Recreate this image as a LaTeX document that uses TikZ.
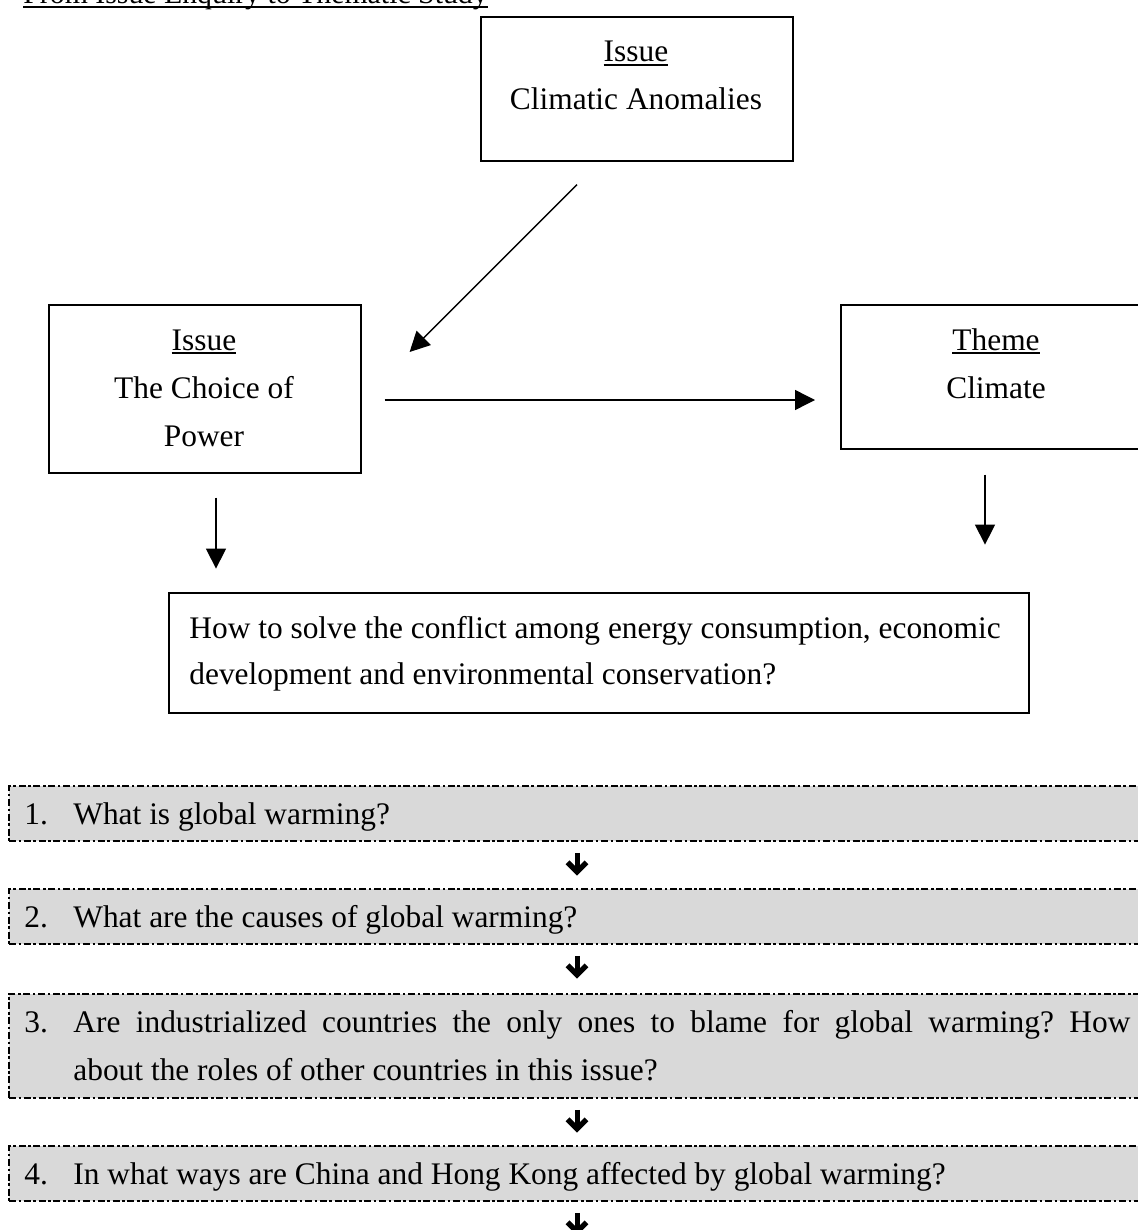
\documentclass[tikz,border=0pt]{standalone}
\usepackage{fontspec}
\setmainfont{Liberation Serif}
\usetikzlibrary{arrows.meta,calc}
\definecolor{boxgray}{HTML}{D9D9D9}
\frenchspacing
\newcommand{\myul}[1]{\setbox0\hbox{#1}\rlap{\rule[-2.2pt]{\wd0}{1.1pt}}\box0}
\newcommand{\boldarrow}[3]{%
  \coordinate (#1s) at ($(#2.south west)+(569,#3)$);
  \coordinate (#1e) at ($(#1s)+(0,19)$);
  \draw[bstem] (#1s) -- (#1e);
  \draw[bhead] ($(#1e)+(-9.5,-9.5)$) -- (#1e) -- ($(#1e)+(9.5,-9.5)$);}
\begin{document}
\begin{tikzpicture}[x=0.5pt,y=-0.5pt,
  box/.style={draw, line width=0.8pt, inner sep=0pt, anchor=north west},
  txt/.style={inner sep=0pt, anchor=base, font=\fontsize{15.7pt}{23.5pt}\selectfont},
  ltxt/.style={txt, anchor=base west},
  dbox/.style={draw, fill=boxgray, line width=0.9pt, dash pattern=on 3.5pt off 1.3pt on 1.3pt off 1.3pt, inner sep=0pt, anchor=north west, minimum width=575pt},
  arr/.style={-{Triangle[length=10pt,width=10pt]}, line width=0.7pt},
  bstem/.style={line width=2.5pt},
  bhead/.style={line width=2.7pt, line join=miter}]
\clip (0,0) rectangle (1138,1230);
\useasboundingbox (0,0) rectangle (1138,1230);

% title
\node[ltxt, font=\fontsize{14.9pt}{22pt}\selectfont] (title) at (23,4) {\myul{From Issue Enquiry to Thematic Study}};

% top box
\node[box, minimum width=156pt, minimum height=72pt] (top) at (480,16) {};
\node[txt] (topA) at (636,62) {\myul{Issue}};
\node[txt] (topB) at (636,110) {Climatic Anomalies};

% left box
\node[box, minimum width=156pt, minimum height=84pt] (left) at (48,304) {};
\node[txt] (leftA) at (204,350) {\myul{Issue}};
\node[txt] (leftB) at (204,398) {The Choice of};
\node[txt] (leftC) at (204,446) {Power};

% theme box
\node[box, minimum width=156pt, minimum height=72pt] (theme) at (840,304) {};
\node[txt] (themeA) at (996,350) {\myul{Theme}};
\node[txt] (themeB) at (996,398) {Climate};

% question box
\node[box, minimum width=430pt, minimum height=60pt] (quest) at (168,592) {};
\node[ltxt] (questA) at (189,638) {How to solve the conflict among energy consumption, economic};
\node[ltxt] (questB) at (189,684) {development and environmental conservation?};

% connectors
\coordinate (dgS) at ($(top.south west)+(97,23)$);
\coordinate (dgE) at ($(left.north east)+(48,48)$);
\draw[arr] (dgS) -- (dgE);
\coordinate (hS) at ($(left.north east)+(23,96)$);
\coordinate (hE) at ($(theme.north west)+(-25,96)$);
\draw[arr] (hS) -- (hE);
\coordinate (lS) at ($(left.south west)+(168,24)$);
\coordinate (lE) at ($(left.south west)+(168,95)$);
\draw[arr] (lS) -- (lE);
\coordinate (rS) at ($(theme.south west)+(145,25)$);
\coordinate (rE) at ($(theme.south west)+(145,95)$);
\draw[arr] (rS) -- (rE);

% dashed question list
\node[dbox, minimum height=27.5pt] (d1) at (8,785) {};
\node[ltxt] (n1) at (24,824) {1.};
\node[ltxt] (q1) at (73,824) {What is global warming?};

\node[dbox, minimum height=27.5pt] (d2) at (8,888) {};
\node[ltxt] (n2) at (24,927) {2.};
\node[ltxt] (q2) at (73,927) {What are the causes of global warming?};

\node[dbox, minimum height=52pt] (d3) at (8,993) {};
\node[ltxt] (n3) at (24,1032) {3.};
\node[ltxt] (q3a) at (73,1032) {\makebox[528.5pt][s]{Are industrialized countries the only ones to blame for global warming? How}};
\node[ltxt] (q3b) at (73,1080) {about the roles of other countries in this issue?};

\node[dbox, minimum height=27.5pt] (d4) at (8,1145) {};
\node[ltxt] (n4) at (24,1184) {4.};
\node[ltxt] (q4) at (73,1184) {In what ways are China and Hong Kong affected by global warming?};

\boldarrow{ba1}{d1}{11}
\boldarrow{ba2}{d2}{11}
\boldarrow{ba3}{d3}{11}
\boldarrow{ba4}{d4}{11}
\end{tikzpicture}
\end{document}
